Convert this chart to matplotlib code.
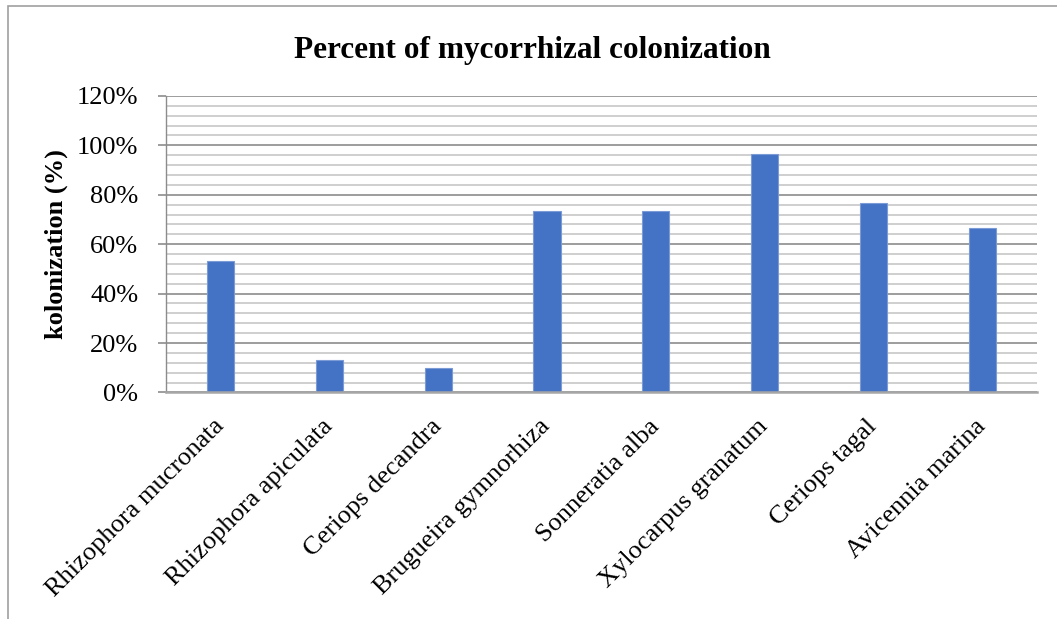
import matplotlib
matplotlib.use("Agg")
import matplotlib.pyplot as plt
from matplotlib.patches import Rectangle
from matplotlib.ticker import MultipleLocator, PercentFormatter
import numpy as np

plt.rcParams["font.family"] = ["Liberation Serif", "DejaVu Serif"]

# 数据
species = [
    "Rhizophora mucronata",
    "Rhizophora apiculata",
    "Ceriops decandra",
    "Brugueira gymnorhiza",
    "Sonneratia alba",
    "Xylocarpus granatum",
    "Ceriops tagal",
    "Avicennia marina",
]
colonization = [53.33, 13.33, 10.0, 73.33, 73.33, 96.67, 76.67, 66.67]

fig = plt.figure(figsize=(10.57, 6.19), dpi=100)
ax = fig.add_axes([0.157, 0.366, 0.824, 0.479])

x = np.arange(len(species))
ax.bar(x, colonization, width=0.25, color="#4472C4", edgecolor="#7b9bd6",
       linewidth=0.8, zorder=3)

ax.set_xlim(-0.5, len(species) - 0.5)
ax.set_ylim(0, 120)
ax.yaxis.set_major_locator(MultipleLocator(20))
ax.yaxis.set_minor_locator(MultipleLocator(4))
ax.yaxis.set_major_formatter(PercentFormatter(decimals=0))

# 网格线
ax.grid(which="minor", axis="y", color="#cfcfcf", linewidth=1.4, zorder=0)
ax.grid(which="major", axis="y", color="#8c8c8c", linewidth=1.2, zorder=1)

for side in ["top", "right"]:
    ax.spines[side].set_visible(False)
ax.spines["left"].set_color("#8c8c8c")
ax.spines["left"].set_linewidth(1.0)
ax.spines["bottom"].set_color("#a6a6a6")
ax.spines["bottom"].set_linewidth(1.8)
ax.spines["bottom"].set_zorder(4)

ax.tick_params(axis="y", which="major", length=6, width=1.2, color="#8c8c8c",
               labelsize=19, pad=14)
ax.tick_params(axis="y", which="minor", length=0)
ax.tick_params(axis="x", length=0, pad=22)

ax.set_xticks(x)
ax.set_xticklabels(species, rotation=45, ha="right", va="center",
                   rotation_mode="anchor", fontsize=19)

ax.set_ylabel("kolonization (%)", fontsize=19, fontweight="bold", labelpad=6)

# 标题居中于整张图
fig.text(0.504, 0.907, "Percent of mycorrhizal colonization", fontsize=22.5,
         fontweight="bold", ha="center", va="baseline")

# 图表外框
fig.patches.append(Rectangle((8 / 1057, -0.05), 1.0, 1 - 6 / 619 + 0.05,
                             transform=fig.transFigure, fill=False,
                             edgecolor="#a0a0a0", linewidth=1.2))

fig.savefig("out.png", dpi=100)
